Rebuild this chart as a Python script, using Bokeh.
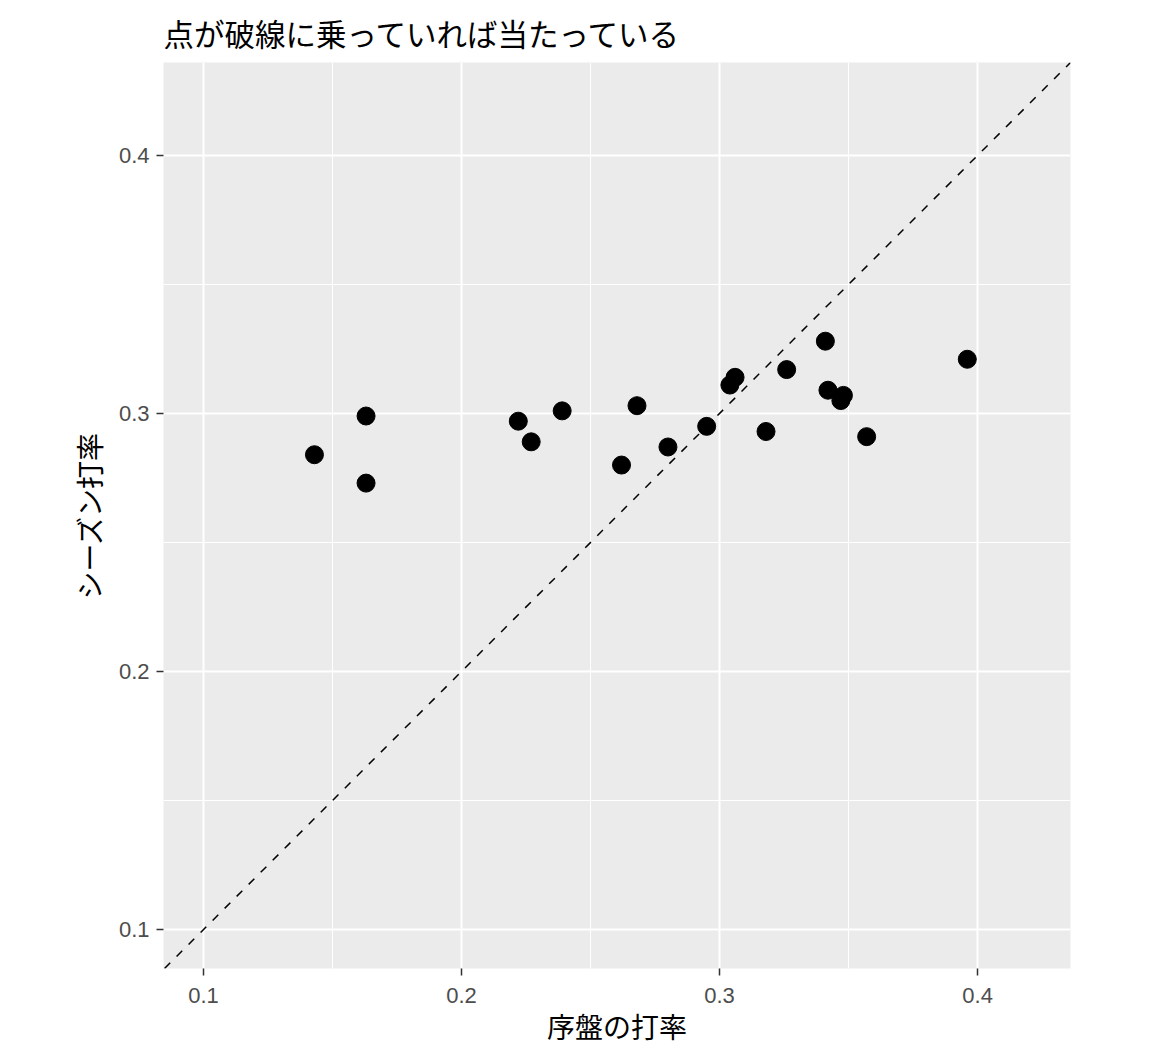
from bokeh.plotting import figure
from bokeh.models import ColumnDataSource, FixedTicker, Range1d, Slope
from bokeh.embed import file_html
from bokeh.resources import INLINE

# 序盤の打率 と シーズン打率
early_avg = [0.143, 0.163, 0.163, 0.222, 0.227, 0.239, 0.262, 0.268, 0.280, 0.295,
             0.304, 0.306, 0.318, 0.326, 0.341, 0.342, 0.348, 0.347, 0.357, 0.396]
season_avg = [0.284, 0.299, 0.273, 0.297, 0.289, 0.301, 0.280, 0.303, 0.287, 0.295,
              0.311, 0.314, 0.293, 0.317, 0.328, 0.309, 0.307, 0.305, 0.291, 0.321]
ticks = [0.1, 0.2, 0.3, 0.4]
minor = [0.15, 0.25, 0.35]

source = ColumnDataSource(data=dict(x=early_avg, y=season_avg))

JP = "Noto Sans CJK JP"

p = figure(title="点が破線に乗っていれば当たっている",
           x_axis_label="序盤の打率",
           y_axis_label="シーズン打率",
           frame_width=907, frame_height=906,
           min_border_left=163, min_border_right=74,
           min_border_top=62, min_border_bottom=82,
           x_range=Range1d(0.0845, 0.4360), y_range=Range1d(0.0849, 0.4360),
           output_backend="svg", toolbar_location=None)

p.background_fill_color = "#EBEBEB"
p.border_fill_color = "white"
p.outline_line_color = None

p.title.text_font = JP
p.title.text_font_size = "30.5px"
p.title.text_font_style = "normal"
p.title.text_color = "black"
p.title.standoff = 15

for ax in (p.xaxis, p.yaxis):
    ax.ticker = FixedTicker(ticks=ticks, minor_ticks=minor)
    ax.axis_line_color = None
    ax.major_tick_line_color = "#333333"
    ax.major_tick_line_width = 1.5
    ax.major_tick_in = 0
    ax.major_tick_out = 7
    ax.minor_tick_line_color = None
    ax.major_label_text_font = "Liberation Sans"
    ax.major_label_text_font_size = "22px"
    ax.major_label_text_color = "#4D4D4D"
    ax.axis_label_text_font = JP
    ax.axis_label_text_font_size = "28px"
    ax.axis_label_text_font_style = "normal"
    ax.axis_label_text_color = "black"

p.xaxis.major_label_standoff = 12
p.yaxis.major_label_standoff = 7
p.xaxis.axis_label_standoff = 0
p.yaxis.axis_label_standoff = 7

for g in (p.xgrid, p.ygrid):
    g.grid_line_color = "white"
    g.grid_line_width = 2
    g.minor_grid_line_color = "white"
    g.minor_grid_line_width = 1

p.add_layout(Slope(gradient=1, y_intercept=0, line_color="black",
                   line_width=1.5, line_dash="8 9"))

p.scatter("x", "y", source=source, size=18, color="black")

open("out.html", "w").write(file_html(p, INLINE))
